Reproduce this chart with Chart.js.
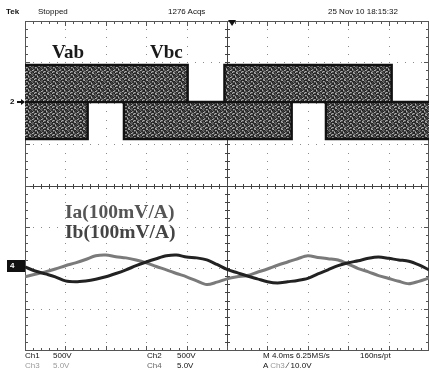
<!DOCTYPE html>
<html>
<head>
<meta charset="utf-8">
<script src="https://cdn.jsdelivr.net/npm/chart.js@4.4.1/dist/chart.umd.min.js"></script>
<style>
  html, body { margin: 0; padding: 0; background: #fff; }
  #wrap { position: relative; width: 429px; height: 376px; overflow: hidden; }
  #scope { position: absolute; left: 0; top: 0; }
  .t { position: absolute; font: 8px "Liberation Sans", Arial, sans-serif; line-height: 1; color: #111; white-space: nowrap; }
  .dim { color: #9a9a9a; }
  .lbl { position: absolute; font-family: "Liberation Serif", "Times New Roman", serif; font-weight: bold; line-height: 1; white-space: nowrap; }
  .mk4 { position: absolute; left: 7px; top: 260px; width: 18px; height: 12px; background: #111; color: #fff;
         font: bold 8px "Liberation Sans", sans-serif; line-height: 12px; text-align: left; padding-left: 3px; box-sizing: border-box; }
</style>
</head>
<body>
<div id="wrap">
  <canvas id="scope" width="429" height="376"></canvas>

  <div class="t" style="left:6px;top:8px;font-weight:bold">Tek</div>
  <div class="t" style="left:38px;top:8px">Stopped</div>
  <div class="t" style="left:168px;top:8px">1276 Acqs</div>
  <div class="t" style="left:328px;top:8px">25 Nov 10 18:15:32</div>

  <div class="lbl" style="left:52px;top:42px;font-size:19px;color:#1a1a1a">Vab</div>
  <div class="lbl" style="left:150px;top:42px;font-size:19px;color:#1a1a1a">Vbc</div>
  <div class="lbl" style="left:65px;top:202px;font-size:19.5px;color:#555">Ia(100mV/A)</div>
  <div class="lbl" style="left:65px;top:222px;font-size:19.5px;color:#444">Ib(100mV/A)</div>

  <div class="t" style="left:10px;top:98px;font-weight:bold">2</div>
  <div class="mk4">4</div>

  <div class="t" style="left:25px;top:352px">Ch1</div>
  <div class="t" style="left:53px;top:352px">500V</div>
  <div class="t" style="left:147px;top:352px">Ch2</div>
  <div class="t" style="left:177px;top:352px">500V</div>
  <div class="t" style="left:263px;top:352px">M 4.0ms 6.25MS/s</div>
  <div class="t" style="left:360px;top:352px">160ns/pt</div>
  <div class="t dim" style="left:25px;top:362px">Ch3</div>
  <div class="t dim" style="left:53px;top:362px">5.0V</div>
  <div class="t" style="left:147px;top:362px;color:#666">Ch4</div>
  <div class="t" style="left:177px;top:362px">5.0V</div>
  <div class="t" style="left:263px;top:362px">A <span class="dim">Ch3</span> &#8725; 10.0V</div>
</div>

<script>
// screen: 10 x 8 divisions, 4 ms/div horizontally
const X_DIV_MS = 4;
const X_DIVS = 10;
const Y_DIVS = 4; // half height

// channel ground positions (div from screen centre)
const CH2_REF = 2.03;
const CH4_REF = -1.93;

// line voltages: switching instants (ms) and envelope level held until the next instant (div)
const vabTimes  = [0, 16.1, 19.75, 36.3, 40];
const vabLevels = [0.9, 0, 0.9, 0, 0];
const vbcTimes  = [0, 6.2, 9.8, 26.4, 29.8, 40];
const vbcLevels = [-0.9, 0, -0.9, 0, -0.9, -0.9];

// phase currents, sampled every 1 ms (div)
const iTimes = [0,1,2,3,4,5,6,7,8,9,10,11,12,13,14,15,16,17,18,19,20,
                21,22,23,24,25,26,27,28,29,30,31,32,33,34,35,36,37,38,39,40];
const iaVals = [-0.29,-0.23,-0.17,-0.10,-0.02,0.05,0.13,0.22,0.24,0.20,0.17,0.12,0.05,-0.04,-0.12,-0.21,-0.29,-0.39,-0.48,-0.42,-0.34,
                -0.29,-0.26,-0.18,-0.10,-0.01,0.07,0.15,0.22,0.18,0.15,0.12,0.02,-0.09,-0.17,-0.26,-0.33,-0.40,-0.46,-0.40,-0.32];
const ibVals = [-0.05,-0.15,-0.22,-0.29,-0.39,-0.41,-0.39,-0.35,-0.29,-0.21,-0.12,-0.02,0.07,0.15,0.22,0.24,0.19,0.17,0.12,0.01,-0.11,
                -0.19,-0.27,-0.34,-0.41,-0.44,-0.41,-0.38,-0.33,-0.22,-0.12,-0.02,0.05,0.10,0.16,0.19,0.16,0.12,0.09,0.00,-0.12];

const toPoints = (ts, vs, ref) => ts.map((t, i) => ({ x: t, y: ref + vs[i] }));

// dense PWM switching shows up as a grey mottled block
function pwmTexture() {
  const c = document.createElement('canvas');
  c.width = 9; c.height = 7;
  const g = c.getContext('2d');
  const shades = ['#1e1e1e', '#5a5a5a', '#333333', '#8a8a8a', '#262626', '#6a6a6a', '#444444', '#b0b0b0', '#2e2e2e'];
  for (let i = 0; i < c.width; i++) {
    for (let j = 0; j < c.height; j++) {
      g.fillStyle = shades[(i * 5 + j * 3 + (i * j) % 4) % shades.length];
      g.fillRect(i, j, 1, 1);
    }
  }
  return g.createPattern(c, 'repeat');
}
const texture = pwmTexture();

/* ---------- graticule ---------- */
const graticule = {
  id: 'graticule',
  beforeDatasetsDraw(chart) {
    const { ctx, chartArea: a, scales: { x, y } } = chart;
    const xs = (d) => Math.round(x.getPixelForValue(d * X_DIV_MS));
    const ys = (d) => Math.round(y.getPixelForValue(d));
    ctx.save();

    // dotted division lines
    ctx.fillStyle = '#8c8c8c';
    for (let d = 1; d < X_DIVS; d++) {
      if (d === X_DIVS / 2) continue;
      for (let m = -Y_DIVS * 5; m <= Y_DIVS * 5; m++) ctx.fillRect(xs(d), ys(m / 5), 1, 1);
    }
    for (let d = -Y_DIVS + 1; d < Y_DIVS; d++) {
      if (d === 0) continue;
      for (let m = 0; m <= X_DIVS * 5; m++) ctx.fillRect(xs(m / 5), ys(d), 1, 1);
    }

    // centre cross with minor ticks
    ctx.fillStyle = '#444';
    const cx = xs(X_DIVS / 2), cy = ys(0);
    ctx.fillRect(a.left, cy, a.right - a.left, 1);
    ctx.fillRect(cx, a.top, 1, a.bottom - a.top);
    for (let m = 0; m <= X_DIVS * 5; m++) ctx.fillRect(xs(m / 5), cy - 2, 1, 5);
    for (let m = -Y_DIVS * 5; m <= Y_DIVS * 5; m++) ctx.fillRect(cx - 2, ys(m / 5), 5, 1);

    // frame with inward ticks
    ctx.fillStyle = '#555';
    ctx.fillRect(a.left, a.top, a.right - a.left, 1);
    ctx.fillRect(a.left, a.bottom, a.right - a.left, 1);
    ctx.fillRect(a.left, a.top, 1, a.bottom - a.top);
    ctx.fillRect(a.right - 1, a.top, 1, a.bottom - a.top);
    for (let m = 0; m <= X_DIVS * 5; m++) {
      const len = m % 5 === 0 ? 5 : 3;
      ctx.fillRect(xs(m / 5), a.top, 1, len);
      ctx.fillRect(xs(m / 5), a.bottom - len + 1, 1, len);
    }
    for (let m = -Y_DIVS * 5; m <= Y_DIVS * 5; m++) {
      const len = m % 5 === 0 ? 5 : 3;
      ctx.fillRect(a.left, ys(m / 5), len, 1);
      ctx.fillRect(a.right - len, ys(m / 5), len, 1);
    }

    // trigger position marker
    const tx = x.getPixelForValue(20.5);
    ctx.fillStyle = '#111';
    ctx.beginPath();
    ctx.moveTo(tx - 4, a.top - 1);
    ctx.lineTo(tx + 4, a.top - 1);
    ctx.lineTo(tx, a.top + 5);
    ctx.closePath();
    ctx.fill();

    // channel 2 ground arrow
    const g2 = y.getPixelForValue(CH2_REF);
    ctx.fillRect(a.left - 8, g2 - 1, 7, 2);
    ctx.beginPath();
    ctx.moveTo(a.left - 4, g2 - 3);
    ctx.lineTo(a.left, g2);
    ctx.lineTo(a.left - 4, g2 + 3);
    ctx.fill();
    ctx.restore();
  }
};

const ctx = document.getElementById('scope').getContext('2d');
new Chart(ctx, {
  type: 'line',
  data: {
    datasets: [
      {
        label: 'Ib',
        data: toPoints(iTimes, ibVals, CH4_REF),
        borderColor: '#222222', borderWidth: 3, tension: 0.3, fill: false
      },
      {
        label: 'Ia',
        data: toPoints(iTimes, iaVals, CH4_REF),
        borderColor: '#7a7a7a', borderWidth: 3, tension: 0.3, fill: false
      },
      {
        label: 'ch2 ground',
        data: [{ x: 0, y: CH2_REF }, { x: X_DIVS * X_DIV_MS, y: CH2_REF }],
        borderColor: '#111111', borderWidth: 2, fill: false
      },
      {
        label: 'Vab',
        data: toPoints(vabTimes, vabLevels, CH2_REF),
        stepped: 'before',
        borderColor: '#111111', borderWidth: 2.5,
        backgroundColor: texture,
        fill: { value: CH2_REF }
      },
      {
        label: 'Vbc',
        data: toPoints(vbcTimes, vbcLevels, CH2_REF),
        stepped: 'before',
        borderColor: '#111111', borderWidth: 2.5,
        backgroundColor: texture,
        fill: { value: CH2_REF }
      }
    ]
  },
  options: {
    responsive: false,
    animation: false,
    layout: { padding: { left: 25, top: 21, right: 0, bottom: 26 } },
    elements: { point: { radius: 0 } },
    scales: {
      x: { type: 'linear', min: 0, max: X_DIVS * X_DIV_MS, display: false },
      y: { type: 'linear', min: -Y_DIVS, max: Y_DIVS, display: false }
    },
    plugins: { legend: { display: false }, tooltip: { enabled: false } }
  },
  plugins: [graticule]
});
</script>
</body>
</html>
